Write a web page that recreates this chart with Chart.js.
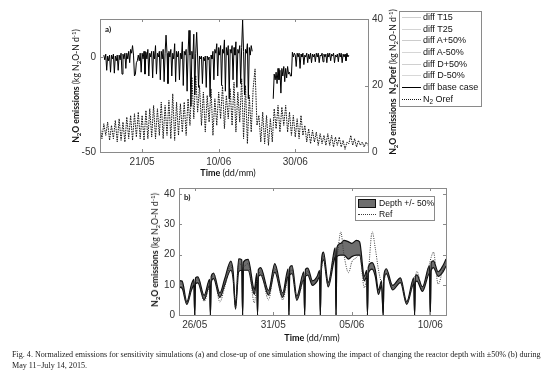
<!DOCTYPE html>
<html>
<head>
<meta charset="utf-8">
<script src="https://cdn.jsdelivr.net/npm/chart.js@4/dist/chart.umd.min.js"></script>
<style>
body{margin:0;background:#fff;width:554px;height:381px;overflow:hidden;position:relative;font-family:"Liberation Sans",Arial,sans-serif;}
canvas{position:absolute;left:0;}
.ttl{position:absolute;font-family:Lato,"Liberation Sans",sans-serif;font-size:8.6px;color:#111;white-space:nowrap;}
.rot{transform:translate(-50%,-50%) rotate(-90deg);}
.ctr{transform:translate(-50%,-50%);}
.ttl sub,.leg sub{font-size:70%;vertical-align:-2px;line-height:0;}
.ttl sup{font-size:70%;vertical-align:3px;line-height:0;}
.leg{position:absolute;border:1px solid #8a8a8a;background:#fff;font-size:9px;color:#111;}
.row{position:absolute;left:0;height:11px;line-height:11px;white-space:nowrap;}
.smp{display:inline-block;width:19px;height:0;vertical-align:middle;margin:0 2px 0 2px;}
.cap{position:absolute;left:12px;font-family:"Liberation Serif","Times New Roman",serif;font-size:8.1px;color:#222;white-space:nowrap;}
</style>
</head>
<body>
<canvas id="chartA" width="554" height="178" style="top:0"></canvas>
<canvas id="chartB" width="554" height="165" style="top:178px"></canvas>

<div class="ttl" style="left:105px;top:24px;font-weight:bold;font-size:8px">a)</div>
<div class="ttl rot" style="left:76px;top:86px"><b>N<sub>2</sub>O emissions</b> (kg N<sub>2</sub>O-N d<sup>-1</sup>)</div>
<div class="ttl rot" style="left:393px;top:82px"><b>N<sub>2</sub>O emissions&nbsp; N<sub>2</sub>Oref</b> (kg N<sub>2</sub>O-N d<sup>-1</sup>)</div>
<div class="ttl ctr" style="left:228px;top:172px;font-size:9px"><b>Time</b> (dd/mm)</div>
<div id="legA" class="leg" style="left:399px;top:11px;width:81px;height:94px"></div>

<div class="ttl" style="left:184px;top:192px;font-weight:bold;font-size:8px">b)</div>
<div class="ttl rot" style="left:155px;top:250px"><b>N<sub>2</sub>O emissions</b> (kg N<sub>2</sub>O-N d<sup>-1</sup>)</div>
<div class="ttl ctr" style="left:312px;top:337px;font-size:9px"><b>Time</b> (dd/mm)</div>
<div id="legB" class="leg" style="left:355px;top:196px;width:78px;height:23px;font-size:8.6px"></div>

<div class="cap" style="top:350px">Fig. 4. Normalized emissions for sensitivity simulations (a) and close-up of one simulation showing the impact of changing the reactor depth with ±50% (b) during</div>
<div class="cap" style="top:361px">May 11−July 14, 2015.</div>

<script>
// ---- panel a) : days counted from 1 May ----
const aBaseStart = 11, aBaseStep = 0.25;   // diff base case sampled 4x a day
const aRefStart = 10, aRefStep = 0.5;      // N2Oref sampled 2x a day
const aBase = [
  1, -1.5, 1.5, -7,   0.5, -2, 1, -8,     1, -1, 1.5, -8.5,   0.5, -2, 1, -7,     // 11-14
  1, -1.5, 2, -9,     1.5, -1, 2, -6,     2, -1, 3, -3,       4, 2, 6, 1,         // 15-18
  -10, -9, -3, -2,    1, -2, 2, -8,       2, -1, 3, -9,       2.5, -1, 4, -10,    // 19-22
  2, 0, 3, -11,       3, -1, 6, -9,       2, 0, 3, -12,       3, -1, 4, -13,      // 23-26
  2, 11.5, 2, -14,    3, 0, 4, -10,       2, -1, 7, -13,      3, 0, 3, -12,       // 27-30
  2, -1, 8, -15,      3, 1, 4, -18,       2, 14, 1, -26,      3, -1, 12, -20,     // 31-34
  2, 13, 0, -16,      0.5, -1, 0.5, -14,  0, -2, 0.5, -16,    0.5, -1.5, 0, -21,  // 35-38
  1, -1, 3, -12,      4, 2, 7, -10,       5, 1, 6, -15,       4, 2, 9, -18,       // 39-42
  5, 1, 6, -22,       4, 2, 6, -12,       5, 1, 8, -16,       4, 2, 6, -14,       // 43-46
  5, 19.5, 3, -20,    4, 2, 7, -22,       5, 1, 6, 3,                             // 47-49
  null, null, null, null, null, null, null, null, null, null, null,               // 50-52.5
  null, null, null, null, null, null, null, null, null, null,                     // 52.75-55
  -22, -9, -12,                                                                   // 55.25-55.75
  -8, -14, -6, -12,   -7, -19, -6, -10,   -5, -13, -6, -11,   -5, -9, -8, -10,    // 56-59
  -10, 2.5, 0, 2,     1, -5, 2, 0,        2, -6, 1.5, 0,      2, -4, 1, 0,        // 60-63
  2, -3, 1.5, -1,     2, -3, 1.5, 0,      1.5, -2.5, 2, 0,    2, -3, 1, 0.5,      // 64-67
  2, -2.5, 1.5, 0,    1.5, -3, 2, 0,      2, -2, 1.5, 0.5,    2, -3, 1, 0,        // 68-71
  1.5, -2.5, 2, 0,    2, -3, 1.5, 0,      1.5, -2, 2, 0,                          // 72-74
  1                                                                               // 75
];
const aRef = [
  8, 4, 8.5, 5, 9, 3.5, 8, 4, 9.5, 3,
  10, 3.5, 9, 3, 10.5, 4, 11, 3.5, 11.5, 4.5,
  12, 4, 11, 3.5, 12.5, 4, 13, 4.5, 14, 4,
  13, 5, 15, 4, 14, 5, 15.5, 4, 17.5, 3.5,
  15, 5, 14.5, 6, 15, 5, 16, 8, 22.5, 10,
  23, 12, 20, 8, 18, 6, 17, 9, 19, 5,
  16, 8, 18, 10, 20, 7, 17, 10, 19, 8,
  21, 6, 18, 9, 22, 4, 20, 2.5, 17, 6,
  19, 25, 8, 11, 3, 12, 2.5, 11, 2, 10,
  3, 13, 7, 14, 6, 13.5, 8, 14, 6, 12,
  5, 11, 4.5, 10, 4, 11, 5, 8, 3, 7,
  2.5, 6.5, 3, 6, 2, 5.5, 2.5, 5, 2, 5.5,
  2, 5, 1.5, 4.5, 2, 4.5, 1.5, 3.5, 0.8, 3,
  2.5, 5, 2, 4, 1.5, 3.5, 2, 3, 1.5, 3,
  2
];
const aTicks = [21, 41, 61];
const aTickLabels = ['21/05', '10/06', '30/06'];
const aLeftTicks = [-50, 0];
const aRightTicks = [0, 20, 40];
const aSeriesNames = ['diff T15', 'diff T25', 'diff A+50%', 'diff A-50%', 'diff D+50%', 'diff D-50%', 'diff base case', 'N<sub>2</sub> Oref'];
const aSeriesColors = ['#cfcfcf', '#d4d4d4', '#cccccc', '#d6d6d6', '#d0d0d0', '#d8d8d8', '#000000', '#111111'];
const aSeriesStyle = ['solid', 'solid', 'solid', 'solid', 'solid', 'solid', 'solid', 'dotted'];

// ---- panel b) ----
const bT   = [25.0,25.2,25.5,25.8,25.95,26.0,26.05,26.2,26.6,26.95,27.0,27.05,27.2,27.6,27.9,28.3,28.45,28.6,28.8,29.0,29.05,29.1,29.4,29.8,29.95,30.0,30.05,30.2,30.7,31.1,31.6,31.95,32.0,32.05,32.2,32.5,32.95,33.0,33.05,33.2,33.5,33.8,33.95,34.0,34.05,34.2,34.5,34.9,34.95,35.0,35.05,35.3,35.5,35.8,36.0,36.3,36.5,36.8,36.95,37.0,37.05,37.3,37.5,37.7,37.9,38.0,38.05,38.2,38.6,39.1,39.5,39.95,40.0,40.05,40.15,40.5,40.95,41.0,41.05,41.2,41.5,41.8,42.0];
const bLow = [9.3,8.8,3.5,8.3,9.8,0,10.3,10.6,5,9.8,0,10.8,12,5.8,9.8,14.8,11.8,1.9,14.3,14.8,0,14.8,14.8,6.8,11.8,0,12.6,13.3,6.6,14.2,5.8,12.8,0,13.2,13.7,4.8,11.8,0,12.7,13.2,9.8,11.2,12.7,0,13.7,18.2,9.3,18.7,19.2,0,19.3,19.8,19.8,18.5,19.3,19.8,19.8,11.3,12.7,0,13.7,15.2,12.7,6.8,9.8,0,11.7,13.7,8.3,10.7,3.5,10.3,0,10.8,11.2,7.8,13.7,0,14.7,15.7,12.8,14.2,16.2];
const bUp  = [11.4,11.2,4.4,10.3,11.8,0,12.3,12.6,6.5,11.8,0,12.8,13.8,7.3,11.8,17.8,14.3,2.8,18.6,18.2,0,17.5,18.4,8.5,13.8,0,15,15.7,8.1,17,7.3,15.3,0,15.8,16.3,6.3,14.3,0,15.1,15.5,11.3,12.8,14.8,0,16.3,20.8,10.8,21.7,22.2,0,22.2,23.7,24.7,24.2,23.7,24.7,24.2,12.8,14.8,0,15.8,17.3,14.8,8.3,11.3,0,13.3,15.3,9.8,12.3,4.4,12.3,0,12.8,13.3,9.3,16.3,0,17.3,17.9,14.3,16.3,18.5];
const bRef = [9.8,9.5,3.8,9,10.5,11,11.2,12,4.5,10,10.5,11.5,14,4.3,9,16.5,12,2.2,17,16.5,16.3,16,17,4,11,12,13,14.5,5,15.5,5,13,13.5,14,15,5.5,12,12.5,13,14.5,10.5,12,13,13.5,14.5,19.5,9.5,20,20,20,20,27.5,20,14,17.5,19,20,9,12,13,14,27.5,22,15,11,11,11.5,13.5,9,11.5,3.8,12,12.5,13,14.4,8.5,17,18,19,20.8,10.2,15,18];
const bTicks = [26, 31, 36, 41];
const bTickLabels = ['26/05', '31/05', '05/06', '10/06'];
const bYTicks = [0, 10, 20, 30, 40];

const tickFont = {family: '"Liberation Sans", Arial, sans-serif', size: 10};
const tickColor = '#333';

// box around the plot with inward tick marks, as the original figure has
const boxPlugin = {
  id: 'box',
  afterDraw(chart, args, opts) {
    const ctx = chart.ctx, a = chart.chartArea;
    ctx.save();
    ctx.strokeStyle = '#8a8a8a';
    ctx.lineWidth = 1;
    ctx.strokeRect(Math.round(a.left) + 0.5, Math.round(a.top) + 0.5, Math.round(a.right - a.left), Math.round(a.bottom - a.top));
    const L = 3;
    ctx.beginPath();
    chart.scales.x.ticks.forEach(t => {
      const p = Math.round(chart.scales.x.getPixelForValue(t.value)) + 0.5;
      ctx.moveTo(p, a.bottom); ctx.lineTo(p, a.bottom - L);
      ctx.moveTo(p, a.top); ctx.lineTo(p, a.top + L);
    });
    chart.scales.y.ticks.forEach(t => {
      const p = Math.round(chart.scales.y.getPixelForValue(t.value)) + 0.5;
      ctx.moveTo(a.left, p); ctx.lineTo(a.left + L, p);
      if (opts.mirror) { ctx.moveTo(a.right, p); ctx.lineTo(a.right - L, p); }
    });
    if (chart.scales.y2) {
      chart.scales.y2.ticks.forEach(t => {
        const p = Math.round(chart.scales.y2.getPixelForValue(t.value)) + 0.5;
        ctx.moveTo(a.right, p); ctx.lineTo(a.right - L, p);
      });
    }
    ctx.stroke();
    ctx.restore();
  }
};

function fixedTicks(values, labels) {
  return {
    afterBuildTicks: s => { s.ticks = values.map(v => ({value: v})); },
    ticks: {
      font: tickFont, color: tickColor, padding: 4, autoSkip: false, maxRotation: 0,
      callback: v => labels ? labels[values.indexOf(v)] : String(v)
    },
    grid: {display: false, drawTicks: false},
    border: {display: false}
  };
}

// ---------- chart a ----------
const baseData = aBase.map((v, i) => ({x: aBaseStart + i * aBaseStep, y: v}));
const refData = aRef.map((v, i) => ({x: aRefStart + i * aRefStep, y: v}));

new Chart(document.getElementById('chartA'), {
  type: 'line',
  data: {
    datasets: [
      {label: 'diff base case', data: baseData, yAxisID: 'y', borderColor: '#000', borderWidth: 1, pointRadius: 0, spanGaps: false},
      {label: 'N2 Oref', data: refData, yAxisID: 'y2', borderColor: '#111', borderWidth: 1, borderDash: [1.5, 1], pointRadius: 0}
    ]
  },
  options: {
    responsive: false,
    animation: false,
    layout: {padding: {top: 19, left: 0, right: 0, bottom: 0}},
    plugins: {legend: {display: false}, tooltip: {enabled: false}, box: {mirror: false}},
    scales: {
      x: Object.assign(fixedTicks(aTicks, aTickLabels), {type: 'linear', min: 10, max: 80, afterFit: s => { s.height = 26; }}),
      y: Object.assign(fixedTicks(aLeftTicks), {type: 'linear', position: 'left', min: -50, max: 20, afterFit: s => { s.width = 100; }}),
      y2: Object.assign(fixedTicks(aRightTicks), {type: 'linear', position: 'right', min: 0, max: 40, afterFit: s => { s.width = 186; }})
    }
  },
  plugins: [boxPlugin]
});

// ---------- chart b ----------
const pts = arr => arr.map((v, i) => ({x: bT[i], y: v}));

new Chart(document.getElementById('chartB'), {
  type: 'line',
  data: {
    datasets: [
      {label: 'Ref', data: pts(bRef), borderColor: '#3a3a3a', borderWidth: 1, borderDash: [1, 1.3], pointRadius: 0, fill: false, cubicInterpolationMode: 'monotone'},
      {label: 'Depth -50%', data: pts(bLow), borderColor: '#111', borderWidth: 1.2, pointRadius: 0, fill: false, cubicInterpolationMode: 'monotone'},
      {label: 'Depth +/- 50%', data: pts(bUp), borderColor: '#111', borderWidth: 1.2, pointRadius: 0, fill: '-1', backgroundColor: '#6e6e6e', cubicInterpolationMode: 'monotone'}
    ]
  },
  options: {
    responsive: false,
    animation: false,
    layout: {padding: {top: 6, left: 0, right: 108, bottom: 0}},
    plugins: {legend: {display: false}, tooltip: {enabled: false}, box: {mirror: true}},
    scales: {
      x: Object.assign(fixedTicks(bTicks, bTickLabels), {type: 'linear', min: 25, max: 42, afterFit: s => { s.height = 28; }}),
      y: Object.assign(fixedTicks(bYTicks), {type: 'linear', position: 'left', min: 0, max: 42, afterFit: s => { s.width = 179; }})
    }
  },
  plugins: [boxPlugin]
});

// ---------- legends ----------
const legA = document.getElementById('legA');
aSeriesNames.forEach((name, i) => {
  const r = document.createElement('div');
  r.className = 'row';
  r.style.top = (i * 11.65) + 'px';
  r.innerHTML = '<span class="smp" style="border-top:1px ' + aSeriesStyle[i] + ' ' + aSeriesColors[i] + '"></span>' + name;
  legA.appendChild(r);
});
const legB = document.getElementById('legB');
legB.innerHTML =
  '<div class="row" style="top:1px"><span class="smp" style="height:7px;background:#6e6e6e;border:1px solid #111;width:16px;margin-right:3px"></span>Depth +/- 50%</div>' +
  '<div class="row" style="top:11.5px"><span class="smp" style="border-top:1px dotted #3a3a3a;width:18px;margin-right:3px"></span>Ref</div>';
</script>
</body>
</html>
